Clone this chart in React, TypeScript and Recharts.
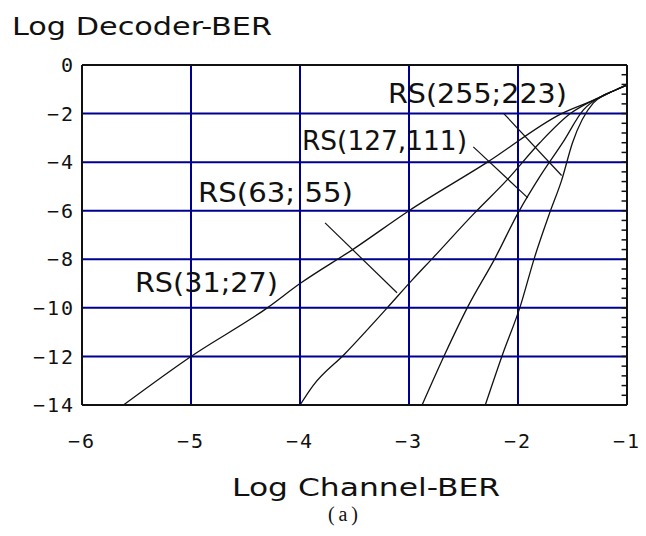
import React from "react";
import {
  LineChart,
  Line,
  XAxis,
  YAxis,
  CartesianGrid,
  ReferenceLine,
  ReferenceDot,
} from "recharts";

// log10 channel BER on x, log10 decoder BER on y
const X_TICKS = [-6, -5, -4, -3, -2, -1];
const Y_TICKS = [0, -2, -4, -6, -8, -10, -12, -14];
const RIGHT_MINOR_TICKS = Array.from({ length: 36 }, (_, i) => Math.round(-i * 4) / 10);

const RS_31_27 = [
  [-5.62, -14], [-5.0, -12.0], [-4.3, -10.0], [-4.0, -9.0], [-3.5, -7.55],
  [-3.0, -6.0], [-2.28, -4.0], [-1.6, -2.0], [-1.27, -1.38],
  [-1.12, -1.06], [-1.0, -0.82],
];
const RS_63_55 = [
  [-4.0, -14], [-3.88, -13.2], [-3.59, -11.9], [-3.2, -10.0], [-2.97, -8.85],
  [-2.78, -7.94], [-2.4, -6.1], [-2.1, -4.73], [-1.8, -3.2], [-1.52, -2.0],
  [-1.25, -1.32], [-1.12, -1.06], [-1.0, -0.82],
];
const RS_127_111 = [
  [-2.88, -14], [-2.67, -11.9], [-2.46, -9.95], [-2.21, -7.95], [-2.0, -6.1],
  [-1.8, -4.6], [-1.59, -3.2], [-1.4, -1.85], [-1.23, -1.28], [-1.12, -1.06],
  [-1.0, -0.82],
];
const RS_255_223 = [
  [-2.3, -14], [-2.14, -11.9], [-1.98, -9.95], [-1.85, -7.95], [-1.71, -6.1],
  [-1.6, -4.75], [-1.5, -3.2], [-1.31, -1.57], [-1.21, -1.24], [-1.12, -1.06],
  [-1.0, -0.82],
];

const SERIES = [
  { name: "RS(31;27)", pts: RS_31_27 },
  { name: "RS(63; 55)", pts: RS_63_55 },
  { name: "RS(127,111)", pts: RS_127_111 },
  { name: "RS(255;223)", pts: RS_255_223 },
];

// label anchor (centre x, baseline y) in data units, plus text width
const LABELS = [
  { text: "RS(255;223)", x: -2.372, y: -1.56, w: 179 },
  { text: "RS(127,111)", x: -3.225, y: -3.5, w: 165 },
  { text: "RS(63; 55)", x: -4.225, y: -5.64, w: 155 },
  { text: "RS(31;27)", x: -4.858, y: -9.34, w: 143 },
];

// leader lines from label to curve
const POINTERS = [
  [{ x: -2.13, y: -2.0 }, { x: -1.6, y: -4.55 }],
  [{ x: -2.41, y: -3.37 }, { x: -1.91, y: -5.47 }],
  [{ x: -3.77, y: -6.5 }, { x: -3.11, y: -9.38 }],
];

const toPts = (arr: number[][]) => arr.map(([x, y]) => ({ x, y }));
const minus = (v: number) => String(v).replace("-", "\u2212");

const SANS = "'DejaVu Sans', 'Liberation Sans', Arial, sans-serif";
const MONO = "'DejaVu Sans Mono', 'Liberation Mono', monospace";
const GRID = "#000090";
const INK = "#111";
const X_MAX = -1;
const MINOR_LEN = 0.05; // length of the inward ticks, in x units

function CurveLabel({ viewBox, text, width }: any) {
  return (
    <text
      x={viewBox.x}
      y={viewBox.y}
      textAnchor="middle"
      textLength={width}
      lengthAdjust="spacingAndGlyphs"
      fontFamily={SANS}
      fontSize={27}
      fill={INK}
    >
      {text}
    </text>
  );
}

export default function App() {
  return (
    <div style={{ position: "absolute", left: 0, top: 0, width: 646, height: 536, background: "#fff" }}>
      <LineChart
        width={646}
        height={536}
        margin={{ top: 65, right: 19, bottom: 71, left: 22 }}
      >
        <CartesianGrid stroke={GRID} strokeWidth={2} />
        <XAxis
          dataKey="x"
          type="number"
          domain={[-6, X_MAX]}
          ticks={X_TICKS}
          allowDataOverflow
          height={60}
          stroke={INK}
          strokeWidth={2}
          tickLine={false}
          tickSize={0}
          tickMargin={29}
          tickFormatter={minus}
          tick={{ fill: INK, fontFamily: MONO, fontSize: 20, letterSpacing: 2 }}
        />
        <YAxis
          type="number"
          domain={[-14, 0]}
          ticks={Y_TICKS}
          allowDataOverflow
          width={60}
          stroke={INK}
          strokeWidth={2}
          tickLine={false}
          tickSize={0}
          tickMargin={7}
          tickFormatter={minus}
          tick={{ fill: INK, fontFamily: MONO, fontSize: 20, letterSpacing: 2 }}
        />
        {/* top and right frame */}
        <ReferenceLine y={0} stroke={INK} strokeWidth={2} />
        <ReferenceLine x={X_MAX} stroke={INK} strokeWidth={2} />
        {RIGHT_MINOR_TICKS.map((v) => (
          <ReferenceLine
            key={v}
            segment={[{ x: X_MAX - MINOR_LEN, y: v }, { x: X_MAX, y: v }]}
            stroke={INK}
            strokeWidth={1.5}
          />
        ))}
        {SERIES.map((s) => (
          <Line
            key={s.name}
            name={s.name}
            data={toPts(s.pts)}
            dataKey="y"
            type="monotone"
            stroke={INK}
            strokeWidth={1.3}
            dot={false}
            isAnimationActive={false}
          />
        ))}
        {POINTERS.map((seg, i) => (
          <ReferenceLine key={i} segment={seg} stroke={INK} strokeWidth={1.2} />
        ))}
        {LABELS.map((l) => (
          <ReferenceDot
            key={l.text}
            x={l.x}
            y={l.y}
            r={0}
            label={<CurveLabel text={l.text} width={l.w} />}
          />
        ))}
      </LineChart>
      <svg
        width={646}
        height={536}
        style={{ position: "absolute", left: 0, top: 0, pointerEvents: "none" }}
      >
        <text x={12} y={35} textLength={260} lengthAdjust="spacingAndGlyphs" fontFamily={SANS} fontSize={25} fill={INK}>
          Log Decoder-BER
        </text>
        <text x={232} y={496} textLength={268} lengthAdjust="spacingAndGlyphs" fontFamily={SANS} fontSize={25} fill={INK}>
          Log Channel-BER
        </text>
        <text x={328} y={521} textLength={30} lengthAdjust="spacing" fontFamily="'Liberation Serif', 'Times New Roman', serif" fontSize={20} fill={INK}>
          (a)
        </text>
      </svg>
    </div>
  );
}
